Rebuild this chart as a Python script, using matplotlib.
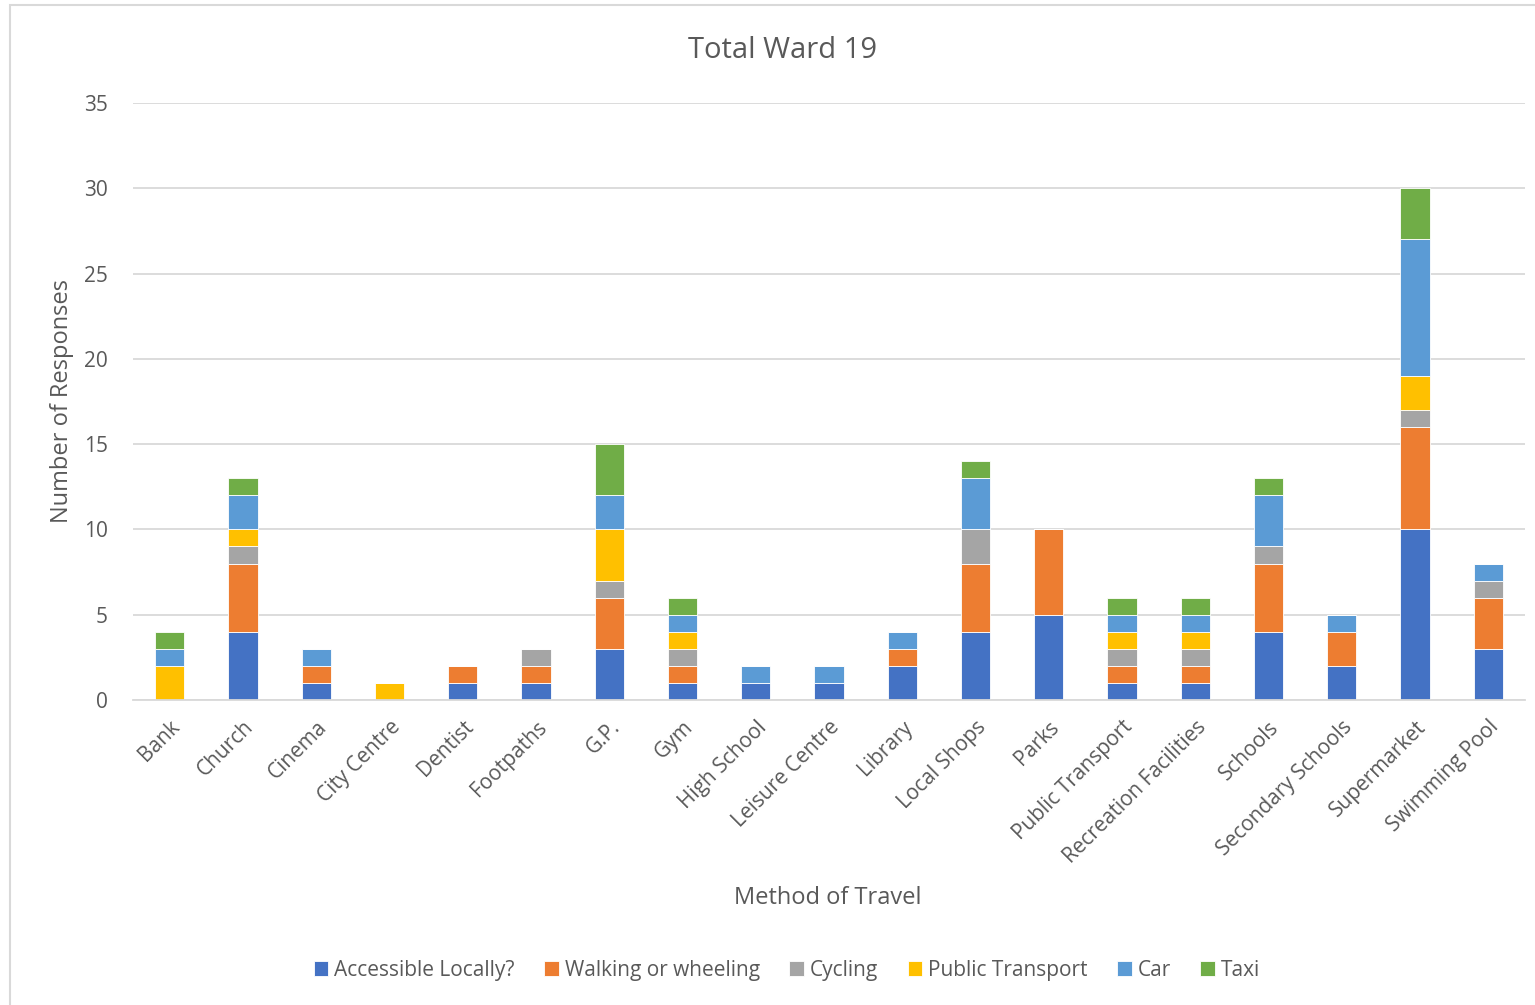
import matplotlib.pyplot as plt
from matplotlib.patches import Rectangle
import numpy as np

# categories and stacked values
places = ['Bank', 'Church', 'Cinema', 'City Centre', 'Dentist', 'Footpaths', 'G.P.', 'Gym',
          'High School', 'Leisure Centre', 'Library', 'Local Shops', 'Parks', 'Public Transport',
          'Recreation Facilities', 'Schools', 'Secondary Schools', 'Supermarket', 'Swimming Pool']

accessible = [0, 4, 1, 0, 1, 1, 3, 1, 1, 1, 2, 4, 5, 1, 1, 4, 2, 10, 3]
walking = [0, 4, 1, 0, 1, 1, 3, 1, 0, 0, 1, 4, 5, 1, 1, 4, 2, 6, 3]
cycling = [0, 1, 0, 0, 0, 1, 1, 1, 0, 0, 0, 2, 0, 1, 1, 1, 0, 1, 1]
public_transport = [2, 1, 0, 1, 0, 0, 3, 1, 0, 0, 0, 0, 0, 1, 1, 0, 0, 2, 0]
car = [1, 2, 1, 0, 0, 0, 2, 1, 1, 1, 1, 3, 0, 1, 1, 3, 1, 8, 1]
taxi = [1, 1, 0, 0, 0, 0, 3, 1, 0, 0, 0, 1, 0, 1, 1, 1, 0, 3, 0]

series_names = ['Accessible Locally?', 'Walking or wheeling', 'Cycling', 'Public Transport', 'Car', 'Taxi']
series = [accessible, walking, cycling, public_transport, car, taxi]
colors = ['#4472C4', '#ED7D31', '#A5A5A5', '#FFC000', '#5B9BD5', '#70AD47']

plt.rcParams['font.family'] = ['Open Sans', 'DejaVu Sans']
text_col = '#595959'

W, H = 1535, 1005
fig = plt.figure(figsize=(W / 100, H / 100), dpi=100)
ax = fig.add_axes([133 / W, 1 - 700 / H, (1525 - 133) / W, 597 / H])

# light border round the chart
fig.patches.append(Rectangle((10 / W, -0.01), 1.1, 1 - 5 / H + 0.01, transform=fig.transFigure,
                             fill=False, edgecolor='#D9D9D9', linewidth=1.5))

x = np.arange(len(places))
bottom = np.zeros(len(places))
for name, vals, c in zip(series_names, series, colors):
    ax.bar(x, vals, 0.4, bottom=bottom, color=c, label=name, edgecolor='white', linewidth=0.6)
    bottom += np.array(vals)

ax.set_xlim(-0.5, len(places) - 0.5)
ax.set_ylim(0, 35)
ax.set_yticks(range(0, 36, 5))
ax.yaxis.grid(True, color='#D9D9D9', linewidth=1.3)
ax.set_axisbelow(True)
for s in ['top', 'right', 'left']:
    ax.spines[s].set_visible(False)
ax.spines['bottom'].set_color('#D9D9D9')
ax.spines['bottom'].set_linewidth(1.3)
ax.tick_params(length=0, labelsize=15, colors=text_col)
ax.tick_params(axis='y', pad=18)
ax.tick_params(axis='x', pad=12)

ax.set_xticks(x)
ax.set_xticklabels(places, rotation=45, ha='right', rotation_mode='anchor')

fig.text(783 / W, 1 - 50 / H, 'Total Ward 19', fontsize=21, color=text_col, ha='center', va='center')
fig.text(828 / W, 1 - 898 / H, 'Method of Travel', fontsize=17, color=text_col, ha='center', va='center')
fig.text(62 / W, 1 - 401 / H, 'Number of Responses', fontsize=17, color=text_col, ha='center',
         va='center', rotation=90)

fig.legend(loc='center', bbox_to_anchor=(787 / W, 1 - 970 / H), ncol=6, frameon=False,
           fontsize=15, handlelength=0.7, handleheight=0.7, handletextpad=0.3, columnspacing=1.4,
           labelcolor=text_col)

plt.savefig('out.png', dpi=100)
